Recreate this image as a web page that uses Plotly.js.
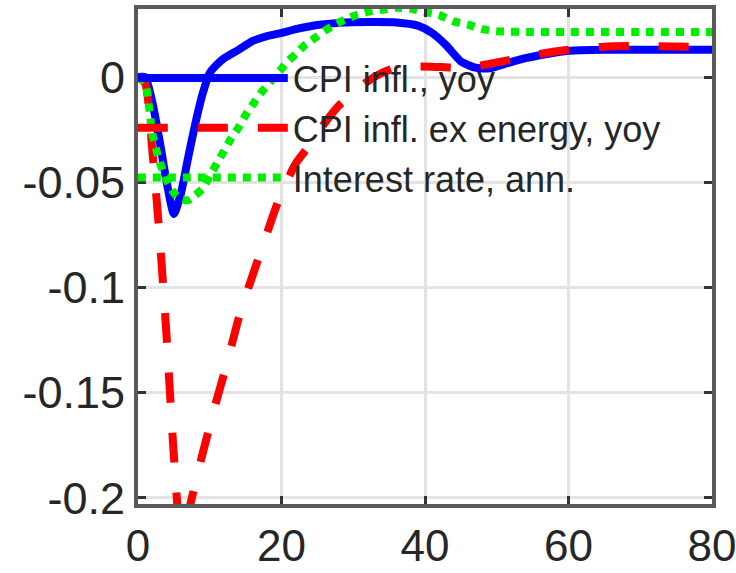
<!DOCTYPE html>
<html>
<head>
<meta charset="utf-8">
<script src="https://cdn.plot.ly/plotly-3.0.1.min.js"></script>
<style>
html,body{margin:0;padding:0;background:#fff;}
#chart{width:736px;height:573px;}
</style>
</head>
<body>
<div id="chart"></div>
<script>
// Series names
var names = ["CPI infl., yoy", "CPI infl. ex energy, yoy", "Interest rate, ann."];

// CPI infl., yoy
var xCPI = [0,1,2,3,4,5,6,7,8,9,10,11,12,14,16,18,20,22,25,28,32,36,39,41,43,45,47,49,51,54,57,60,65,70,80];
var yCPI = [0,0,-0.012,-0.03,-0.05,-0.065,-0.055,-0.038,-0.022,-0.008,0.002,0.006,0.009,0.013,0.0172,0.0195,0.021,0.0228,0.0248,0.0258,0.0262,0.026,0.0245,0.021,0.015,0.0075,0.0045,0.0042,0.0062,0.009,0.011,0.0125,0.013,0.013,0.013];

// CPI infl. ex energy, yoy
var xCore = [0,1,2,3,4,5,6,7,8,9,10,11,12,13,14,15,16,17,18,19,20,22,24,26,28,30,32,34,36,38,41,44,47,50,53,56,60,65,70,80];
var yCore = [0,-0.003,-0.035,-0.075,-0.124,-0.18,-0.218,-0.207,-0.193,-0.179,-0.166,-0.153,-0.141,-0.128,-0.115,-0.104,-0.094,-0.084,-0.074,-0.064,-0.055,-0.041,-0.032,-0.022,-0.0135,-0.0075,-0.002,0.002,0.0045,0.005,0.005,0.0045,0.005,0.007,0.009,0.011,0.013,0.0145,0.0148,0.0143];

// Interest rate, ann.
var xRate = [0,1,2,3,4,5,6,7,8,9,10,11,12,13,14,15,16,17,18,19,20,21,22,23,24,25,26,27,28,29,30,32,34,36,38,40,42,44,46,48,50,55,60,70,80];
var yRate = [0,-0.003,-0.027,-0.04,-0.049,-0.055,-0.058,-0.0585,-0.056,-0.053,-0.047,-0.041,-0.035,-0.029,-0.024,-0.018,-0.013,-0.008,-0.004,0.0,0.004,0.008,0.011,0.0145,0.017,0.0195,0.022,0.024,0.026,0.0275,0.029,0.031,0.032,0.033,0.0325,0.031,0.0295,0.0265,0.025,0.0228,0.0218,0.0215,0.0215,0.0215,0.0215];

// Axis ticks
var xTicks = [0,20,40,60,80];
var xTickText = ["0","20","40","60","80"];
var yTicks = [0,-0.05,-0.1,-0.15,-0.2];
var yTickText = ["0","-0.05","-0.1","-0.15","-0.2"];

var traces = [
  {x:xCPI, y:yCPI, name:names[0], type:"scatter", mode:"lines",
   line:{color:"#0000ff", width:8, shape:"spline", smoothing:0.6}},
  {x:xCore, y:yCore, name:names[1], type:"scatter", mode:"lines",
   line:{color:"#ff0000", width:8, dash:"30px,30px", shape:"spline", smoothing:0.6}},
  {x:xRate, y:yRate, name:names[2], type:"scatter", mode:"lines",
   line:{color:"#00ee00", width:8, dash:"8px,7px", shape:"spline", smoothing:0.6}}
];

var fontFam = "Liberation Sans, Arial, sans-serif";
var layout = {
  width:736, height:573,
  margin:{l:138, r:24, t:9, b:69},
  paper_bgcolor:"#ffffff", plot_bgcolor:"#ffffff",
  showlegend:true,
  legend:{x:-0.009, y:0.921, xanchor:"left", yanchor:"top", bgcolor:"rgba(0,0,0,0)",
    borderwidth:0, itemwidth:150, font:{family:fontFam, size:36, color:"#262626"},
    tracegroupgap:0},
  xaxis:{range:[0,80], tickvals:xTicks, ticktext:xTickText,
    showgrid:true, gridcolor:"#e3e3e3", gridwidth:3, zeroline:false,
    showline:true, mirror:"ticks", linecolor:"#5a5a5a", linewidth:4,
    ticks:"inside", ticklen:8, tickwidth:3, tickcolor:"#333",
    ticklabeloverflow:"allow", ticklabelstandoff:0,
    tickfont:{family:fontFam, size:44, color:"#262626"}},
  yaxis:{range:[-0.2029,0.0324], tickvals:yTicks, ticktext:yTickText,
    showgrid:true, gridcolor:"#e3e3e3", gridwidth:3, zeroline:false,
    showline:true, mirror:"ticks", linecolor:"#5a5a5a", linewidth:4,
    ticks:"inside", ticklen:8, tickwidth:3, tickcolor:"#333",
    ticklabeloverflow:"allow",
    tickfont:{family:fontFam, size:45, color:"#262626"}}
};

Plotly.newPlot("chart", traces, layout, {displayModeBar:false, staticPlot:true});
</script>
</body>
</html>
